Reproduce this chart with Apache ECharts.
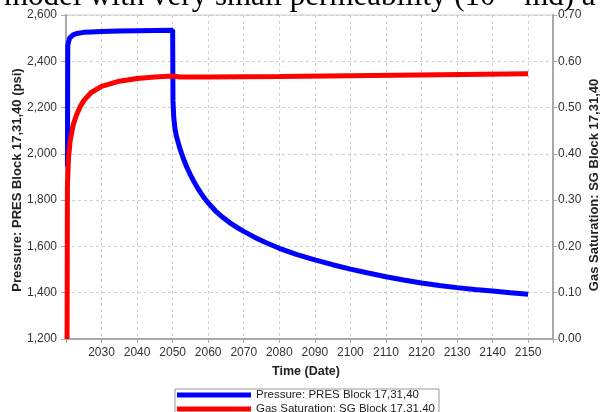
<!DOCTYPE html>
<html>
<head>
<meta charset="utf-8">
<script src="https://cdn.jsdelivr.net/npm/echarts@6/dist/echarts.min.js"></script>
<style>
html,body{margin:0;padding:0;background:#fff;}
#c{width:600px;height:412px;}
</style>
</head>
<body>
<div id="c"></div>
<script>
// ---- data ----
const presYears = [2020.4, 2020.5, 2021, 2022, 2023, 2025, 2027, 2030, 2035, 2040, 2045, 2050.0, 2050.1, 2050.3, 2050.6, 2051, 2052, 2053, 2054, 2055, 2056, 2057, 2058, 2059, 2060, 2062, 2064, 2066, 2068, 2070, 2073, 2076, 2080, 2085, 2090, 2095, 2100, 2105, 2110, 2115, 2120, 2125, 2130, 2135, 2140, 2145, 2150];
const presValues = [1945, 2470, 2500, 2514, 2520, 2525, 2527, 2529, 2531, 2532, 2533, 2534, 2230, 2160, 2115, 2080, 2025, 1980, 1942, 1909, 1880, 1853, 1829, 1807, 1788, 1754, 1727, 1703, 1683, 1665, 1640, 1618, 1592, 1565, 1542, 1521, 1502, 1485, 1469, 1455, 1442, 1431, 1422, 1414, 1407, 1400, 1393];
const sgYears = [2020.3, 2020.4, 2020.7, 2021.2, 2022, 2023, 2024, 2025, 2027, 2030, 2035, 2040, 2045, 2050, 2052, 2060, 2080, 2100, 2125, 2150];
const sgValues = [0.0, 0.33, 0.39, 0.43, 0.462, 0.485, 0.502, 0.515, 0.532, 0.546, 0.557, 0.563, 0.566, 0.568, 0.566, 0.566, 0.567, 0.569, 0.571, 0.573];
const pressureTicks = [1200, 1400, 1600, 1800, 2000, 2200, 2400, 2600];
const saturationTicks = [0.0, 0.1, 0.2, 0.3, 0.4, 0.5, 0.6, 0.7];
const seriesNames = ['Pressure: PRES Block 17,31,40', 'Gas Saturation: SG Block 17,31,40'];
const titleText = 'model with very small permeability (10\u207B\u2074 md) a';

const zip = (xs, ys) => xs.map((x, i) => [x, ys[i]]);

const FONT = '"Liberation Sans", Arial, sans-serif';
const chart = echarts.init(document.getElementById('c'), null, {renderer: 'canvas'});
chart.setOption({
  animation: false,
  backgroundColor: '#fff',
  grid: {left: 66, right: 47, top: 15, bottom: 73, show: true, borderColor: '#c8c8c8', borderWidth: 1},
  xAxis: {
    type: 'value', min: 2020, max: 2157, interval: 10,
    axisLine: {show: true, onZero: false, lineStyle: {color: '#a8a8a8', width: 2}},
    axisTick: {show: true, length: 4, lineStyle: {color: '#a8a8a8'}},
    axisLabel: {color: '#333', fontFamily: FONT, fontSize: 12, margin: 8,
      formatter: v => (v > 2020 && v % 10 === 0) ? String(v) : ''},
    splitLine: {show: true, lineStyle: {color: '#cfcfcf', type: [3, 3], width: 1}}
  },
  yAxis: [{
    type: 'value', min: pressureTicks[0], max: pressureTicks[pressureTicks.length - 1], interval: 200,
    position: 'left',
    axisLine: {show: true, lineStyle: {color: '#a8a8a8', width: 2}},
    axisTick: {show: true, length: 5, lineStyle: {color: '#a8a8a8'}},
    axisLabel: {color: '#333', fontFamily: FONT, fontSize: 12, margin: 9,
      formatter: v => v.toLocaleString('en-US')},
    splitLine: {show: true, lineStyle: {color: '#cfcfcf', type: [3, 3], width: 1}}
  }, {
    type: 'value', min: saturationTicks[0], max: saturationTicks[saturationTicks.length - 1], interval: 0.1,
    position: 'right',
    axisLine: {show: true, lineStyle: {color: '#a8a8a8', width: 2}},
    axisTick: {show: true, length: 4, lineStyle: {color: '#a8a8a8'}},
    axisLabel: {color: '#333', fontFamily: FONT, fontSize: 12, margin: 5,
      formatter: v => v.toFixed(2)},
    splitLine: {show: false}
  }],
  legend: {
    orient: 'vertical', left: 175, top: 389, height: 60,
    padding: [0, 4, 0, 2], itemGap: 2,
    itemWidth: 74, itemHeight: 5, icon: 'rect',
    borderColor: '#999', borderWidth: 1, backgroundColor: '#fff',
    textStyle: {color: '#222', fontFamily: FONT, fontSize: 11.5},
    data: seriesNames
  },
  graphic: [
    {type: 'text', left: 4, top: -19, silent: true,
      style: {text: titleText, font: '31px "Liberation Serif", "Times New Roman", serif', fill: '#000'}},
    {type: 'text', x: 17, y: 180, rotation: Math.PI / 2, silent: true,
      style: {text: 'Pressure: PRES Block 17,31,40 (psi)', font: 'bold 13px ' + FONT, fill: '#222', align: 'center', verticalAlign: 'middle'}},
    {type: 'text', x: 594, y: 185, rotation: Math.PI / 2, silent: true,
      style: {text: 'Gas Saturation: SG Block 17,31,40', font: 'bold 13px ' + FONT, fill: '#222', align: 'center', verticalAlign: 'middle'}},
    {type: 'text', x: 306, y: 372, silent: true,
      style: {text: 'Time (Date)', font: 'bold 12.5px ' + FONT, fill: '#222', align: 'center', verticalAlign: 'middle'}}
  ],
  series: [{
    name: seriesNames[0], type: 'line', yAxisIndex: 0,
    data: zip(presYears, presValues),
    showSymbol: false, symbol: 'none',
    lineStyle: {color: '#0000ff', width: 5},
    itemStyle: {color: '#0000ff'}
  }, {
    name: seriesNames[1], type: 'line', yAxisIndex: 1,
    data: zip(sgYears, sgValues),
    showSymbol: false, symbol: 'none',
    lineStyle: {color: '#ff0000', width: 5},
    itemStyle: {color: '#ff0000'}
  }]
});
</script>
</body>
</html>
